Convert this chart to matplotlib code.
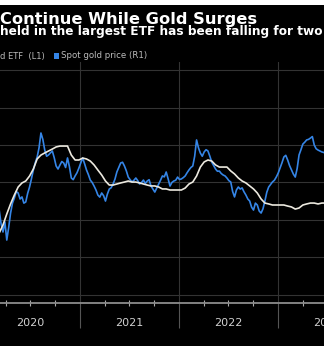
import pandas as pd
import matplotlib
matplotlib.use("Agg")
import matplotlib.pyplot as plt
import matplotlib.dates as mdates
from matplotlib.patches import Rectangle

# gold held in the ETF (L1), tonnes (approx.), read every two weeks
etf_dates = pd.date_range("2020-03-08", periods=87, freq="14D")
etf_holdings = [
    663, 717, 790, 857, 917, 970, 997, 1010, 1043, 1090,
    1157, 1183, 1197, 1210, 1223, 1237, 1243, 1243, 1243, 1183,
    1150, 1150, 1163, 1157, 1143, 1117, 1083, 1050, 1010, 983,
    983, 990, 997, 1003, 1010, 1003, 1003, 997, 990, 983,
    977, 977, 970, 957, 957, 950, 950, 950, 950, 963,
    990, 1003, 1043, 1103, 1137, 1150, 1143, 1117, 1103, 1103,
    1103, 1077, 1057, 1030, 1010, 997, 977, 957, 930, 890,
    863, 857, 850, 850, 850, 850, 843, 837, 823, 830,
    850, 857, 863, 863, 857, 863, 863,
]

# spot gold price (R1), USD/oz, read weekly
gold_dates = pd.date_range("2020-03-08", periods=173, freq="7D")
gold_price = [
    1653, 1580, 1536, 1590, 1493, 1560, 1637, 1690, 1717, 1752,
    1744, 1712, 1723, 1690, 1696, 1742, 1776, 1820, 1867, 1905,
    1936, 1985, 2064, 2030, 1973, 1940, 1947, 1958, 1968, 1932,
    1888, 1872, 1893, 1912, 1904, 1880, 1931, 1885, 1824, 1815,
    1835, 1852, 1877, 1905, 1931, 1900, 1867, 1842, 1813, 1800,
    1781, 1760, 1733, 1722, 1744, 1730, 1701, 1738, 1765, 1772,
    1792, 1818, 1856, 1880, 1904, 1908, 1888, 1862, 1829, 1815,
    1803, 1812, 1824, 1810, 1792, 1800, 1813, 1795, 1808, 1815,
    1781, 1765, 1749, 1770, 1792, 1812, 1835, 1830, 1856, 1820,
    1781, 1800, 1808, 1812, 1829, 1816, 1819, 1826, 1835, 1852,
    1867, 1880, 1888, 1940, 2027, 1985, 1957, 1940, 1963, 1975,
    1968, 1940, 1909, 1890, 1872, 1860, 1861, 1848, 1840, 1835,
    1824, 1810, 1803, 1752, 1723, 1760, 1776, 1765, 1771, 1750,
    1733, 1712, 1701, 1668, 1653, 1690, 1680, 1648, 1637, 1660,
    1701, 1748, 1776, 1790, 1803, 1812, 1829, 1850, 1877, 1905,
    1936, 1945, 1920, 1890, 1867, 1845, 1829, 1875, 1947, 1975,
    2005, 2015, 2027, 2030, 2037, 2045, 2000, 1980, 1973, 1968,
    1963, 1960, 1957,
]

years = [2020, 2021, 2022, 2023]

title = "Continue While Gold Surges"
subtitle = "held in the largest ETF has been falling for two years"
legend_l1 = "d ETF  (L1)"
legend_r1 = "Spot gold price (R1)"

BLUE = "#3585e6"
W, H = 324, 346
fig = plt.figure(figsize=(W / 100, H / 100), dpi=100, facecolor="black")

# white strip above the chart
fig.add_artist(Rectangle((0, 1 - 5 / H), 1, 5 / H, transform=fig.transFigure,
                         facecolor="white", edgecolor="none"))

ax = fig.add_axes([0, (H - 303) / H, 1, (303 - 62) / H])
ax.set_facecolor("black")
ax.plot(gold_dates, gold_price, color=BLUE, lw=1.2, zorder=3)
ax.set_ylim(1157.3, 2442.7)
ax.set_yticks(range(1200, 2401, 200))
ax.yaxis.tick_right()
ax.tick_params(axis="y", length=0, labelright=False, labelleft=False)

ax2 = ax.twinx()
ax2.plot(etf_dates, etf_holdings, color="#ece9df", lw=1.2, zorder=3)
ax2.set_ylim(196.7, 1803.3)
ax2.yaxis.tick_left()
ax2.tick_params(axis="y", length=0, labelright=False, labelleft=False)

ax.set_xlim(pd.Timestamp("2020-03-11"), pd.Timestamp("2023-06-19"))

# year ticks + quarter ticks
ax.xaxis.set_major_locator(mdates.YearLocator())
ax.xaxis.set_minor_locator(mdates.MonthLocator(bymonth=[4, 7, 10]))
ax.xaxis.set_major_formatter(plt.NullFormatter())
ax.tick_params(axis="x", which="major", direction="out", length=18, width=0.8,
               color="#555555")
ax.tick_params(axis="x", which="minor", direction="inout", length=4, width=0.8,
               color="#aaaaaa")

ax.grid(True, axis="both", which="major", color="#333333", lw=0.8)
ax.set_axisbelow(True)

for a in (ax, ax2):
    for s in ("top", "left", "right"):
        a.spines[s].set_visible(False)
ax2.spines["bottom"].set_visible(False)
ax.spines["bottom"].set_color("#8c8c8c")
ax.spines["bottom"].set_linewidth(1.3)

# year labels centred in each year
for y in years:
    mid = pd.Timestamp(f"{y}-07-02")
    ax.text(mid, -0.085, str(y), transform=ax.get_xaxis_transform(),
            ha="center", va="center", color="#d0d0d0", fontsize=8,
            family="DejaVu Sans", clip_on=False)

fig.text(0, 1 - 24 / H, title, color="white", fontsize=11.7, fontweight="bold",
         family="DejaVu Sans", va="baseline", ha="left")
fig.text(0, 1 - 34.8 / H, subtitle, color="white", fontsize=8.7, fontweight="bold",
         family="DejaVu Sans", va="baseline", ha="left")
fig.text(0, 1 - 58.5 / H, legend_l1, color="#bbbbbb", fontsize=6,
         family="DejaVu Sans", va="baseline", ha="left")
fig.add_artist(Rectangle((54 / W, 1 - 58.5 / H), 5 / W, 5 / H,
                         transform=fig.transFigure, facecolor=BLUE,
                         edgecolor="none"))
fig.text(61 / W, 1 - 58.5 / H, legend_r1, color="#bbbbbb", fontsize=6.2,
         family="DejaVu Sans", va="baseline", ha="left")

fig.savefig("out.png", dpi=100, facecolor="black")
